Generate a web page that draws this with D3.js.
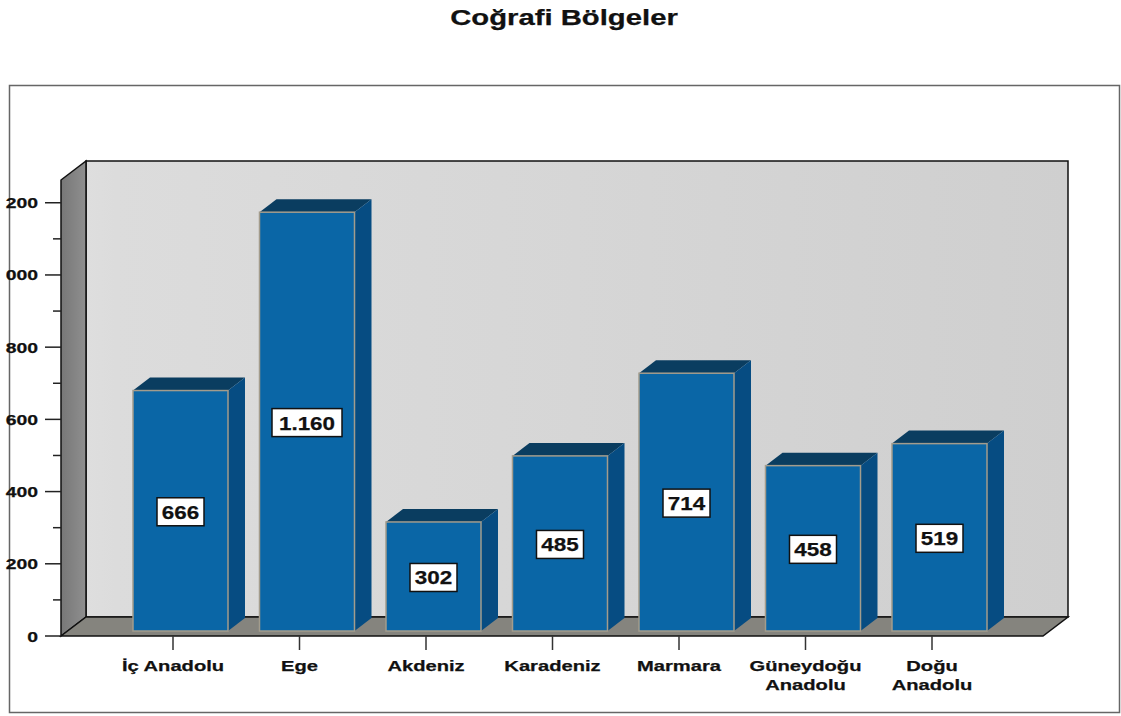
<!DOCTYPE html>
<html>
<head>
<meta charset="utf-8">
<script src="https://cdn.jsdelivr.net/npm/d3@7"></script>
<style>
  body { margin: 0; background: #fff; overflow: hidden; }
  svg { display: block; }
  text { font-family: "Liberation Sans", Arial, sans-serif; font-weight: bold; fill: #111; stroke: #111; stroke-width: .25px; }
  .cat text, .ylab { font-size: 15.5px; }
</style>
</head>
<body>
<script>
// values
const categories = ["İç Anadolu", "Ege", "Akdeniz", "Karadeniz", "Marmara", "Güneydoğu Anadolu", "Doğu Anadolu"];
const values = [666, 1160, 302, 485, 714, 458, 519];
const valueLabels = ["666", "1.160", "302", "485", "714", "458", "519"];
const majorTicks = [0, 200, 400, 600, 800, 1000, 1200];
const minorTicks = [100, 300, 500, 700, 900, 1100];
// the left of the labels is cut off in the original
const tickLabels = ["0", "200", "400", "600", "800", "000", "200"];

const width = 1121, height = 716;
const svg = d3.select("body").append("svg")
    .attr("width", width)
    .attr("height", height);

const x = d3.scalePoint().domain(categories).range([173, 932]);
const y = d3.scaleLinear().domain([0, 1263]).range([636, 180]);

const floorLeft = 61, floorRight = 1043, depthX = 25, depthY = 19;
const barW = 95, barLift = 5, sideX = 17, sideY = 13;

// the text in the original is wider than the font, stretch the glyphs
function stretch(sel, k) {
    sel.each(function() {
        d3.select(this)
            .attr("textLength", this.getComputedTextLength() * k)
            .attr("lengthAdjust", "spacingAndGlyphs");
    });
}

// gradients
const defs = svg.append("defs");
function grad(id, stops) {
    const g = defs.append("linearGradient").attr("id", id)
        .attr("x1", 0).attr("y1", 0).attr("x2", 1).attr("y2", 0);
    stops.forEach(s => g.append("stop").attr("offset", s[0]).attr("stop-color", s[1]));
}
grad("wall", [[0, "#dedede"], [0.03, "#dcdcdc"], [0.5, "#d6d6d6"], [1, "#cfcfcf"]]);
grad("side", [[0, "#777777"], [1, "#8f8f8f"]]);

// title
svg.append("text")
    .attr("x", 564).attr("y", 25)
    .attr("text-anchor", "middle")
    .style("font-size", "22px")
    .text("Coğrafi Bölgeler")
    .call(stretch, 1.33);

// outer frame
svg.append("rect")
    .attr("x", 9.5).attr("y", 85.5)
    .attr("width", 1110).attr("height", 627)
    .attr("fill", "#fff").attr("stroke", "#666").attr("stroke-width", 1.5);

// 3d box
const boxTop = y.range()[1];
const base = y(0);
const box = svg.append("g");
const line = d3.line();

box.append("path")   // back wall
    .attr("d", line([[floorLeft + depthX, boxTop - depthY], [floorRight + depthX, boxTop - depthY], [floorRight + depthX, base - depthY], [floorLeft + depthX, base - depthY]]) + "Z")
    .attr("fill", "url(#wall)").attr("stroke", "#111").attr("stroke-width", 1.5);
box.append("path")   // left wall
    .attr("d", line([[floorLeft, boxTop], [floorLeft + depthX, boxTop - depthY], [floorLeft + depthX, base - depthY], [floorLeft, base]]) + "Z")
    .attr("fill", "url(#side)").attr("stroke", "#111").attr("stroke-width", 1.5);
box.append("path")   // floor
    .attr("d", line([[floorLeft, base], [floorLeft + depthX, base - depthY], [floorRight + depthX, base - depthY], [floorRight, base]]) + "Z")
    .attr("fill", "#85847e").attr("stroke", "#111").attr("stroke-width", 1.5);

// y ticks
const yAxis = svg.append("g");
yAxis.selectAll("line.major").data(majorTicks).enter().append("line")
    .attr("class", "major")
    .attr("x1", 45).attr("x2", floorLeft)
    .attr("y1", d => y(d)).attr("y2", d => y(d))
    .attr("stroke", "#222").attr("stroke-width", 1.5);
yAxis.selectAll("line.minor").data(minorTicks).enter().append("line")
    .attr("class", "minor")
    .attr("x1", 53).attr("x2", floorLeft)
    .attr("y1", d => y(d)).attr("y2", d => y(d))
    .attr("stroke", "#222").attr("stroke-width", 1.5);
yAxis.selectAll("text").data(majorTicks).enter().append("text")
    .attr("class", "ylab")
    .attr("x", 38)
    .attr("y", d => y(d) + 5.5)
    .attr("text-anchor", "end")
    .text((d, i) => tickLabels[i])
    .call(stretch, 1.25);

// bars
const bars = svg.selectAll("g.bar")
    .data(categories.map((c, i) => ({ c: c, v: values[i], label: valueLabels[i] })))
  .enter().append("g")
    .attr("class", "bar");

const barLeft = d => x(d.c) - 40;
const barTop = d => y(d.v) - barLift;
const barBase = base - barLift;

bars.append("path")   // top
    .attr("d", d => line([[barLeft(d), barTop(d)], [barLeft(d) + sideX, barTop(d) - sideY], [barLeft(d) + barW + sideX, barTop(d) - sideY], [barLeft(d) + barW, barTop(d)]]) + "Z")
    .attr("fill", "#0a3d60");
bars.append("path")   // side
    .attr("d", d => line([[barLeft(d) + barW, barTop(d)], [barLeft(d) + barW + sideX, barTop(d) - sideY], [barLeft(d) + barW + sideX, barBase - sideY], [barLeft(d) + barW, barBase]]) + "Z")
    .attr("fill", "#064c82");
bars.append("rect")   // front
    .attr("x", barLeft)
    .attr("y", barTop)
    .attr("width", barW)
    .attr("height", d => barBase - barTop(d))
    .attr("fill", "#0a66a6")
    .attr("stroke", "#a39c8c").attr("stroke-width", 1.5);

// value boxes
bars.each(function(d) {
    const g = d3.select(this);
    const cx = barLeft(d) + barW / 2;
    const cy = (barTop(d) + barBase) / 2 + 1;
    const w = d.label.length > 3 ? 70 : 47;
    g.append("rect")
        .attr("x", cx - w / 2).attr("y", cy - 14)
        .attr("width", w).attr("height", 28)
        .attr("fill", "#fff").attr("stroke", "#111").attr("stroke-width", 1.5);
    g.append("text")
        .attr("x", cx).attr("y", cy + 7)
        .attr("text-anchor", "middle")
        .style("font-size", "19px")
        .text(d.label)
        .call(stretch, 1.18);
});

// x ticks and labels
const cat = svg.selectAll("g.cat").data(categories).enter().append("g")
    .attr("class", "cat")
    .attr("transform", d => "translate(" + x(d) + "," + base + ")");
cat.append("line")
    .attr("y1", 0).attr("y2", 14)
    .attr("stroke", "#333").attr("stroke-width", 1.5);
cat.each(function(d) {
    // long names wrap on two lines
    const parts = d.split(" ");
    const lines = parts.length > 1 && d.length > 11 ? parts : [d];
    d3.select(this).selectAll("text").data(lines).enter().append("text")
        .attr("y", (l, i) => 35 + i * 19)
        .attr("text-anchor", "middle")
        .text(l => l)
        .call(stretch, 1.3);
});
</script>
</body>
</html>
